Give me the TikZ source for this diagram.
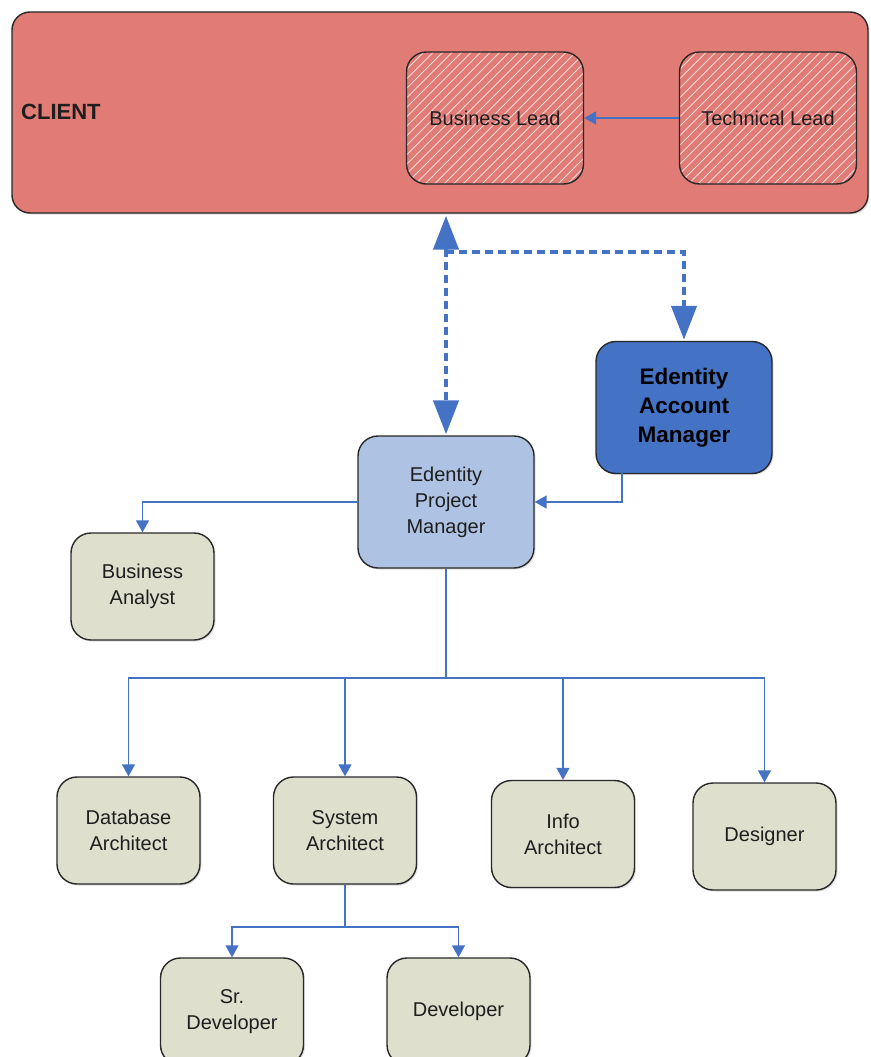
\documentclass[tikz,border=0pt]{standalone}
\usepackage{fontspec}
\setmainfont{Liberation Sans}
\usetikzlibrary{arrows.meta,shadows}
\definecolor{clientfill}{RGB}{224,123,118}
\definecolor{amfill}{RGB}{68,114,196}
\definecolor{pmfill}{RGB}{174,195,227}
\definecolor{greyfill}{RGB}{222,224,205}
\definecolor{lineblue}{RGB}{68,114,196}
\definecolor{bordercol}{RGB}{40,40,40}
\definecolor{txt}{RGB}{30,30,30}
\tikzset{
  basebox/.style={draw=bordercol, line width=1.4pt, rounded corners=20pt, inner sep=0pt,
    align=center, text=txt, font=\fontsize{20}{26}\selectfont},
  shadowed/.style={drop shadow={shadow xshift=1.5pt, shadow yshift=-1.5pt, opacity=0.25}},
  greybox/.style={basebox, shadowed, fill=greyfill, minimum width=143pt, minimum height=107pt},
  bigbox/.style={basebox, shadowed, minimum width=176pt, minimum height=132pt},
  hatchbox/.style={basebox, minimum width=177pt, minimum height=132pt, fill=clientfill,
    path picture={\foreach \k in {0,...,40}{
      \draw[white!70!clientfill, line width=0.8pt]
        ([xshift=\k*9.5pt-200pt]path picture bounding box.south west) -- ++(220pt,220pt);}}},
  conn/.style={draw=lineblue, line width=1.5pt, -{Triangle[width=13pt,length=12pt]}},
  plainline/.style={draw=lineblue, line width=1.5pt},
  bigconn/.style={draw=lineblue, line width=4.5pt, dash pattern=on 8pt off 5pt}
}
\begin{document}
\begin{tikzpicture}[x=1pt,y=-1pt]
\useasboundingbox (0,0) rectangle (870,1057);
% client
\node[draw=bordercol, line width=1.4pt, rounded corners=18pt, fill=clientfill,
  minimum width=856pt, minimum height=201pt, inner sep=0pt, shadowed] (client) at (440,112.5) {};
\node[anchor=west, inner sep=0pt, font=\fontsize{22}{26}\selectfont\bfseries, text=txt] (clientlbl) at (21,112) {CLIENT};
\node[hatchbox] (bl) at (495,118) {Business Lead};
\node[hatchbox] (tl) at (768,118) {Technical Lead};
\draw[conn, line width=2pt] (tl.west) -- (bl.east);

% managers
\node[bigbox, fill=amfill, font=\fontsize{22.5}{29}\selectfont\bfseries, text=black] (am) at (684,407.5) {Edentity\\Account\\Manager};
\node[bigbox, fill=pmfill] (pm) at (446,502) {Edentity\\Project\\Manager};

% dashed links
\coordinate (j) at (446,252);
\draw[bigconn, {Triangle[width=25pt,length=34pt]}-{Triangle[width=25pt,length=34pt]}, shorten <=2pt, shorten >=1pt]
  (pm.north |- client.south) -- (pm.north);
\draw[bigconn, -{Triangle[width=25pt,length=34pt]}, shorten >=1pt] (j) -| (am.north);

% AM -> PM
\coordinate (amout) at (622,473);
\draw[conn] (amout) |- (pm.east);

% PM -> BA
\node[greybox] (ba) at (142.5,586.5) {Business\\Analyst};
\draw[conn] (pm.west) -| (ba.north);

% second row
\node[greybox] (db) at (128.5,830.5) {Database\\Architect};
\node[greybox] (sa) at (345,830.5) {System\\Architect};
\node[greybox] (ia) at (563,834) {Info\\Architect};
\node[greybox] (de) at (764.5,836.5) {Designer};
\coordinate (bus) at (446,678);
\draw[plainline] (pm.south) -- (bus);
\draw[conn] (bus) -| (db.north);
\draw[conn] (bus) -| (sa.north);
\draw[conn] (bus) -| (ia.north);
\draw[conn] (bus) -| (de.north);

% third row
\node[greybox] (sd) at (232,1011.5) {Sr.\\Developer};
\node[greybox] (dv) at (458.5,1011.5) {Developer};
\coordinate (bus2) at (345,927);
\draw[plainline] (sa.south) -- (bus2);
\draw[conn] (bus2) -| (sd.north);
\draw[conn] (bus2) -| (dv.north);
\end{tikzpicture}
\end{document}
